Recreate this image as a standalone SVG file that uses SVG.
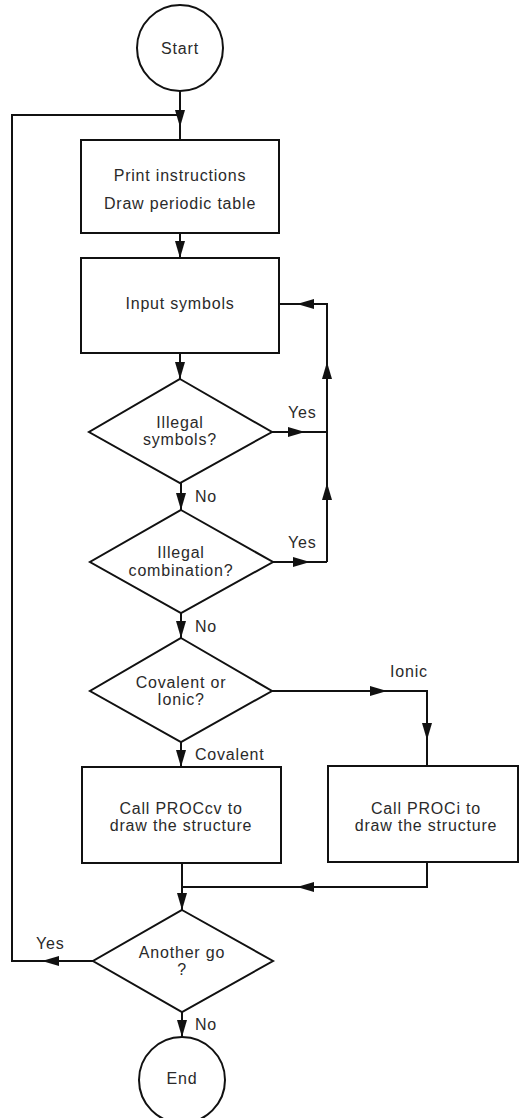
<svg xmlns="http://www.w3.org/2000/svg" width="520" height="1118" viewBox="0 0 520 1118">
<defs>
<style>
.s{fill:#fff;stroke:#111;stroke-width:2}
.l{fill:none;stroke:#111;stroke-width:2}
text{font-family:"Liberation Sans",Arial,sans-serif;font-size:16px;fill:#2a2a2a;letter-spacing:0.8px;text-anchor:middle}
.lbl{text-anchor:start}
</style>
<marker id="ah" markerUnits="userSpaceOnUse" viewBox="0 0 17 10" refX="17" refY="5" markerWidth="17" markerHeight="10" orient="auto">
<path d="M0,0 L17,5 L0,10 z" fill="#111"/>
</marker>
</defs>
<g id="connectors">
<path class="l" d="M180,91 V127" marker-end="url(#ah)"/>
<path class="l" d="M180,127 V140"/>
<path class="l" d="M180,233 V258" marker-end="url(#ah)"/>
<path class="l" d="M180,353 V379" marker-end="url(#ah)"/>
<path class="l" d="M272,432 H305" marker-end="url(#ah)"/>
<path class="l" d="M305,432 H327"/>
<path class="l" d="M327,432 V362" marker-end="url(#ah)"/>
<path class="l" d="M327,362 V304 H297"/>
<path class="l" d="M327,304 H297" marker-end="url(#ah)"/>
<path class="l" d="M297,304 H279"/>
<path class="l" d="M181,483 V510" marker-end="url(#ah)"/>
<path class="l" d="M273,562 H310" marker-end="url(#ah)"/>
<path class="l" d="M310,562 H327"/>
<path class="l" d="M327,562 V483" marker-end="url(#ah)"/>
<path class="l" d="M327,483 V432"/>
<path class="l" d="M181,613 V638" marker-end="url(#ah)"/>
<path class="l" d="M272,691 H387" marker-end="url(#ah)"/>
<path class="l" d="M387,691 H427 V740"/>
<path class="l" d="M427,691 V740" marker-end="url(#ah)"/>
<path class="l" d="M427,740 V766"/>
<path class="l" d="M181,742 V767" marker-end="url(#ah)"/>
<path class="l" d="M182,863 V910" marker-end="url(#ah)"/>
<path class="l" d="M427,862 V887 H297" marker-end="url(#ah)"/>
<path class="l" d="M297,887 H182"/>
<path class="l" d="M93,961 H42" marker-end="url(#ah)"/>
<path class="l" d="M42,961 H12 V115 H180"/>
<path class="l" d="M182,1012 V1037" marker-end="url(#ah)"/>
</g>
<g id="start"><circle class="s" cx="180" cy="48" r="43"/><text x="180" y="54">Start</text></g>
<g id="print"><rect class="s" x="81" y="140" width="198" height="93"/><text x="180" y="181">Print instructions</text><text x="180" y="209">Draw periodic table</text></g>
<g id="input"><rect class="s" x="81" y="258" width="198" height="95"/><text x="180" y="309">Input symbols</text></g>
<g id="illegal-symbols"><polygon class="s" points="180,379 272,432 180,483 89,432"/><text x="180" y="428">Illegal</text><text x="180" y="445">symbols?</text></g>
<g id="illegal-combination"><polygon class="s" points="181,510 273,562 181,613 90,562"/><text x="181" y="558">Illegal</text><text x="181" y="576">combination?</text></g>
<g id="covalent-ionic"><polygon class="s" points="181,638 272,691 181,742 90,691"/><text x="181" y="688">Covalent or</text><text x="181" y="705">Ionic?</text></g>
<g id="proccv"><rect class="s" x="82" y="767" width="199" height="96"/><text x="181" y="814">Call PROCcv to</text><text x="181" y="831">draw the structure</text></g>
<g id="proci"><rect class="s" x="328" y="766" width="190" height="96"/><text x="426" y="814">Call PROCi to</text><text x="426" y="831">draw the structure</text></g>
<g id="another"><polygon class="s" points="182,910 273,961 182,1012 93,961"/><text x="182" y="958">Another go</text><text x="182" y="975">?</text></g>
<g id="end"><circle class="s" cx="182" cy="1080" r="43"/><text x="182" y="1084">End</text></g>
<g id="labels">
<text class="lbl" x="288" y="418">Yes</text>
<text class="lbl" x="288" y="548">Yes</text>
<text class="lbl" x="195" y="502">No</text>
<text class="lbl" x="195" y="632">No</text>
<text class="lbl" x="390" y="677">Ionic</text>
<text class="lbl" x="195" y="760">Covalent</text>
<text class="lbl" x="36" y="949">Yes</text>
<text class="lbl" x="195" y="1030">No</text>
</g>
</svg>
